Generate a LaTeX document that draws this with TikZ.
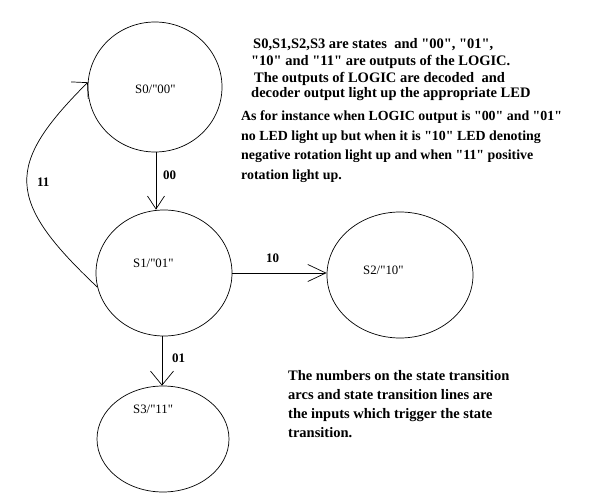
\documentclass[tikz,border=0pt]{standalone}
\usepackage{fontspec}
\setmainfont{Liberation Serif}[Ligatures=TeXOff]
\usetikzlibrary{shapes.geometric,arrows.meta}
\begin{document}
\begin{tikzpicture}[x=1pt,y=-1pt,
  state/.style={draw,ellipse,inner sep=0pt,line width=0.7pt},
  slabel/.style={anchor=base west,inner sep=0pt,font=\fontsize{12.8}{14}\selectfont},
  tlabel/.style={anchor=base west,inner sep=0pt,font=\fontsize{13}{15}\selectfont\bfseries},
  tnote/.style={anchor=base west,inner sep=0pt,font=\fontsize{14.5}{15}\selectfont\bfseries},
  note/.style={anchor=base west,inner sep=0pt,font=\fontsize{13.9}{15}\selectfont\bfseries},
  bnote/.style={anchor=base west,inner sep=0pt,font=\fontsize{14.5}{15}\selectfont\bfseries},
  conn/.style={line width=0.7pt,-{Straight Barb[length=13pt,width=17pt,line width=0.7pt]}}]
\useasboundingbox (0,0) rectangle (606,497);
% states
\node[state,minimum width=134pt,minimum height=130pt] (s0) at (155,87) {};
\node[state,minimum width=136pt,minimum height=126pt] (s1) at (164,273) {};
\node[state,minimum width=146pt,minimum height=126pt] (s2) at (400,275) {};
\node[state,minimum width=132pt,minimum height=106pt] (s3) at (163,439) {};
% state labels
\node[slabel] (l0) at (135,94) {S0/"00"};
\node[slabel] (l1) at (133,268) {S1/"01"};
\node[slabel] (l2) at (363,275) {S2/"10"};
\node[slabel] (l3) at (133,414) {S3/"11"};
% transitions
\draw[conn] ([xshift=1pt]s0.south) -- ([xshift=1pt]s0.south |- s1.north);
\draw[conn,-{Straight Barb[length=18pt,width=17pt,line width=0.7pt]}] (s1.east) -- (s1.east -| s2.west);
\draw[conn,-{Straight Barb[length=14pt,width=23pt,line width=0.7pt]}] ([xshift=-2pt]s1.south) -- ([xshift=-2pt]s1.south |- s3.north);
\draw[conn,-{Straight Barb[length=11pt,width=24pt,line width=0.7pt]}] (s1.192) .. controls (5,200) and (5,165) .. (s0.176);
% transition labels
\node[tlabel] (t00) at (163,180) {00};
\node[tlabel] (t10) at (266,263) {10};
\node[tlabel] (t01) at (172,363) {01};
\node[tlabel] (t11) at (37,187) {11};
% notes
\node[tnote] (n1) at (253,49) {S0,S1,S2,S3 are states \ and "00", "01",};
\node[tnote] (n2) at (251,66) {"10" and "11" are outputs of the LOGIC.};
\node[tnote] (n3) at (254,83) {The outputs of LOGIC are decoded \ and};
\node[tnote] (n4) at (251,98) {decoder output light up the appropriate LED};
\node[note] (n5) at (241,121) {As for instance when LOGIC output is "00" and "01"};
\node[note] (n6) at (241,141) {no LED light up but when it is "10" LED denoting};
\node[note] (n7) at (241,160) {negative rotation light up and when "11" positive};
\node[note] (n8) at (241,180) {rotation light up.};
\node[bnote] (b1) at (288,381) {The numbers on the state transition};
\node[bnote] (b2) at (288,400) {arcs and state transition lines are};
\node[bnote] (b3) at (288,419) {the inputs which trigger the state};
\node[bnote] (b4) at (288,438) {transition.};
\end{tikzpicture}
\end{document}
